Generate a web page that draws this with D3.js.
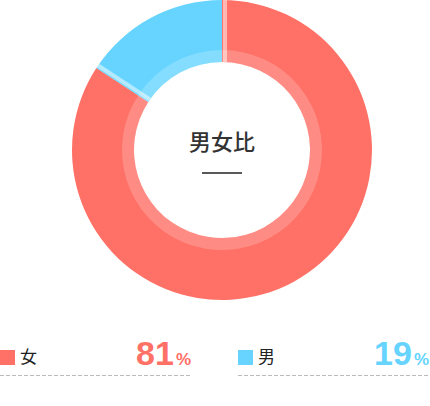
<!DOCTYPE html>
<html>
<head>
<meta charset="utf-8">
<script src="https://cdn.jsdelivr.net/npm/d3@7"></script>
<style>
  body { margin: 0; background: #fff; }
  svg { display: block; }
</style>
</head>
<body>
<div id="chart"></div>
<script>
// data
var categories = ["女", "男"];
var sliceValues = [84.2, 15.8];   // arc sizes as drawn
var pctLabels = ["81", "19"];     // printed percentages
var palette = ["#ff7066", "#66d4ff"];
var title = "男女比";

var width = 430, height = 406;
var cx = 222, cy = 150;
var rOuter = 150, rInner = 88, rBand = 100;

var svg = d3.select("#chart").append("svg")
    .attr("width", width)
    .attr("height", height);

var pie = d3.pie().sort(null).value(d => d);
var arcs = pie(sliceValues);

var g = svg.append("g").attr("transform", "translate(" + cx + "," + cy + ")");

var arc = d3.arc().innerRadius(rInner).outerRadius(rOuter);
var band = d3.arc().innerRadius(rInner).outerRadius(rBand);

g.selectAll("path.slice")
    .data(arcs)
    .enter()
    .append("path")
    .attr("class", "slice")
    .attr("d", arc)
    .style("fill", (d, i) => palette[i]);

// lighter inner ring
g.selectAll("path.band")
    .data(arcs)
    .enter()
    .append("path")
    .attr("class", "band")
    .attr("d", band)
    .style("fill", "#fff")
    .style("fill-opacity", 0.2);

// pale line at the start of each slice
g.selectAll("line.sep")
    .data(arcs)
    .enter()
    .append("line")
    .attr("class", "sep")
    .attr("x1", 3).attr("x2", 3)
    .attr("y1", -rInner).attr("y2", -rOuter)
    .attr("transform", d => "rotate(" + (d.startAngle * 180 / Math.PI) + ")")
    .style("stroke", "#fff")
    .style("stroke-opacity", 0.5)
    .style("stroke-width", 4);

// centre title
g.append("text")
    .attr("x", 0)
    .attr("y", 0)
    .attr("text-anchor", "middle")
    .style("font-family", "'Noto Sans CJK JP', sans-serif")
    .style("font-size", "22px")
    .style("font-weight", "500")
    .style("fill", "#333")
    .text(title);

g.append("line")
    .attr("x1", -20).attr("x2", 20)
    .attr("y1", 23).attr("y2", 23)
    .style("stroke", "#222")
    .style("stroke-width", 1.5);

// legend rows
var colX = [0, 238];
var colW = 192;

var legend = svg.selectAll("g.item")
    .data(categories)
    .enter()
    .append("g")
    .attr("class", "item")
    .attr("transform", (d, i) => "translate(" + colX[i] + ",0)");

legend.append("rect")
    .attr("x", 0).attr("y", 350)
    .attr("width", 15).attr("height", 15)
    .style("fill", (d, i) => palette[i]);

legend.append("text")
    .attr("x", 20).attr("y", 363)
    .style("font-family", "'Noto Sans CJK JP', sans-serif")
    .style("font-size", "17px")
    .style("fill", "#222")
    .text(d => d);

var num = legend.append("text")
    .attr("x", colW - 1).attr("y", 365)
    .attr("text-anchor", "end")
    .style("font-family", "'Liberation Sans', Arial, sans-serif")
    .style("font-weight", "bold")
    .style("fill", (d, i) => palette[i]);

num.append("tspan")
    .style("font-size", "34px")
    .text((d, i) => pctLabels[i]);

num.append("tspan")
    .attr("dx", 2)
    .style("font-size", "17px")
    .text("%");

legend.append("line")
    .attr("x1", 0).attr("x2", colW)
    .attr("y1", 375.5).attr("y2", 375.5)
    .style("stroke", "#bbb")
    .style("stroke-width", 1)
    .style("stroke-dasharray", "4,2");
</script>
</body>
</html>
